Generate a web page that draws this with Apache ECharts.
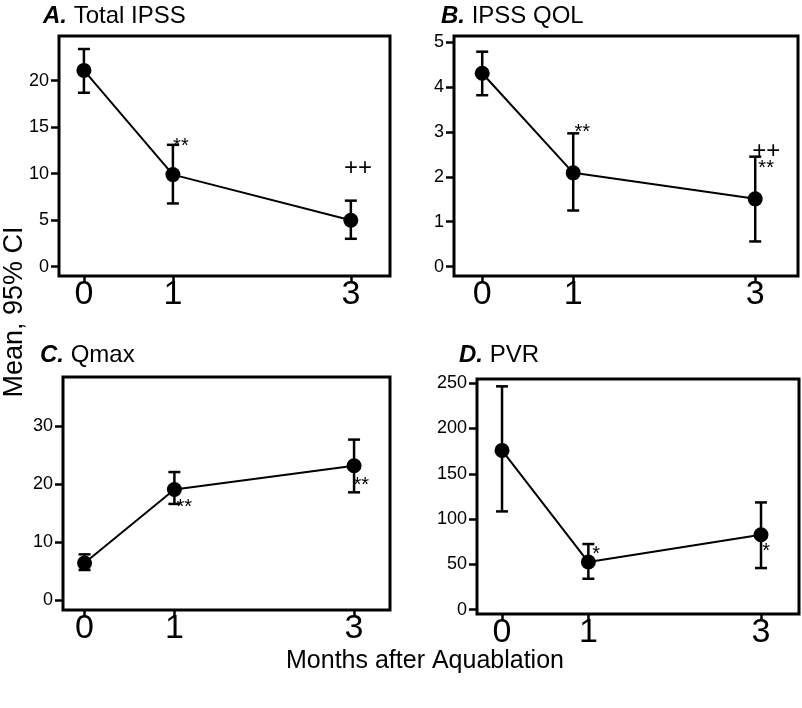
<!DOCTYPE html>
<html>
<head>
<meta charset="utf-8">
<script src="https://cdn.jsdelivr.net/npm/echarts@6/dist/echarts.min.js"></script>
<style>
html,body{margin:0;padding:0;background:#fff;}
#main{width:802px;height:708px;}
</style>
</head>
<body>
<div id="main"></div>
<script>
// ---- data ----
const months = [0, 1, 3];
const xTickLabels = ['0', '1', '3'];

const ipssMean = [21.1, 9.9, 5.0];
const ipssLow  = [18.7, 6.8, 3.0];
const ipssHigh = [23.4, 13.1, 7.1];
const ipssTicks = [0, 5, 10, 15, 20];

const qolMean = [4.31, 2.09, 1.51];
const qolLow  = [3.82, 1.25, 0.56];
const qolHigh = [4.79, 2.97, 2.45];
const qolTicks = [0, 1, 2, 3, 4, 5];

const qmaxMean = [6.4, 19.1, 23.2];
const qmaxLow  = [5.2, 16.6, 18.6];
const qmaxHigh = [7.9, 22.1, 27.7];
const qmaxTicks = [0, 10, 20, 30];

const pvrMean = [175.8, 52.6, 82.8];
const pvrLow  = [108.5, 34.2, 46.0];
const pvrHigh = [246.5, 72.5, 118.4];
const pvrTicks = [0, 50, 100, 150, 200, 250];

// significance annotations: [month position, value position, text]
const annotA = [[1.09, 13.5, '**'], [3.08, 10.6, '++']];
const annotB = [[1.10, 3.1, '**'], [3.12, 2.56, '++'], [3.12, 2.29, '**']];
const annotC = [[1.11, 16.9, '**'], [3.08, 20.7, '**']];
const annotD = [[1.09, 66, '*'], [3.06, 69.9, '*']];

const panelTitles = [['A.', 'Total IPSS'], ['B.', 'IPSS QOL'], ['C.', 'Qmax'], ['D.', 'PVR']];
const yTitle = 'Mean, 95% CI';
const xTitle = 'Months after Aquablation';

// ---- chart ----
const FONT = '"Liberation Sans", Arial, Helvetica, sans-serif';
const chart = echarts.init(document.getElementById('main'), null, {renderer: 'canvas'});

const grids = [
  {left: 59, top: 36, width: 331, height: 240},
  {left: 454, top: 36, width: 344, height: 240},
  {left: 63, top: 377, width: 327, height: 233},
  {left: 477, top: 379, width: 322, height: 235}
];
const xRanges = [[-0.28, 3.44], [-0.31, 3.47], [-0.24, 3.40], [-0.29, 3.44]];
const yRanges = [[-1, 24.8], [-0.21, 5.14], [-1.7, 38.5], [-4.7, 254.6]];
const yTickSets = [ipssTicks, qolTicks, qmaxTicks, pvrTicks];
const means = [ipssMean, qolMean, qmaxMean, pvrMean];
const lows = [ipssLow, qolLow, qmaxLow, pvrLow];
const highs = [ipssHigh, qolHigh, qmaxHigh, pvrHigh];
const annots = [annotA, annotB, annotC, annotD];

const grid = grids.map(g => Object.assign({show: true, borderColor: '#000', borderWidth: 3, backgroundColor: 'transparent'}, g));

const xAxis = xRanges.map((r, i) => ({
  type: 'value', gridIndex: i, min: r[0], max: r[1], position: 'bottom',
  axisLine: {show: false, onZero: false},
  splitLine: {show: false},
  axisTick: {show: true, inside: false, length: 7, customValues: months, lineStyle: {color: '#000', width: 2.5}},
  axisLabel: {show: true, customValues: months, margin: 2, fontSize: 34, color: '#000', fontFamily: FONT,
    formatter: v => xTickLabels[months.indexOf(v)]}
}));

const yAxis = yRanges.map((r, i) => ({
  type: 'value', gridIndex: i, min: r[0], max: r[1], position: 'left',
  axisLine: {show: false, onZero: false},
  splitLine: {show: false},
  axisTick: {show: true, inside: false, length: 8, customValues: yTickSets[i], lineStyle: {color: '#000', width: 2.5}},
  axisLabel: {show: true, customValues: yTickSets[i], margin: 10, fontSize: 18, color: '#000', fontFamily: FONT}
}));

const series = [];
for (let i = 0; i < 4; i++) {
  series.push({
    type: 'custom', xAxisIndex: i, yAxisIndex: i, z: 2, silent: true,
    data: months.map((m, k) => [m, lows[i][k], highs[i][k]]),
    renderItem: (params, api) => {
      const x = api.value(0);
      const lo = api.coord([x, api.value(1)]);
      const hi = api.coord([x, api.value(2)]);
      const cap = 6;
      const st = {stroke: '#000', lineWidth: 2.5, fill: null};
      return {type: 'group', children: [
        {type: 'line', shape: {x1: lo[0], y1: lo[1], x2: hi[0], y2: hi[1]}, style: st},
        {type: 'line', shape: {x1: lo[0] - cap, y1: lo[1], x2: lo[0] + cap, y2: lo[1]}, style: st},
        {type: 'line', shape: {x1: hi[0] - cap, y1: hi[1], x2: hi[0] + cap, y2: hi[1]}, style: st}
      ]};
    }
  });
  series.push({
    type: 'line', xAxisIndex: i, yAxisIndex: i, z: 3, silent: true,
    data: months.map((m, k) => [m, means[i][k]]),
    symbol: 'circle', symbolSize: 15, showSymbol: true,
    itemStyle: {color: '#000'},
    lineStyle: {color: '#000', width: 2}
  });
  series.push({
    type: 'custom', xAxisIndex: i, yAxisIndex: i, z: 4, silent: true,
    data: annots[i],
    renderItem: (params, api) => {
      const p = api.coord([api.value(0), api.value(1)]);
      const t = annots[i][params.dataIndex][2];
      const isStar = t.indexOf('*') >= 0;
      return {type: 'text', x: p[0], y: p[1] + (isStar ? 5 : 0), style: {
        text: t, fill: '#000', fontSize: isStar ? 20 : 24, fontFamily: FONT,
        align: 'center', verticalAlign: 'middle'
      }};
    }
  });
}

const titlePos = [[43, 17], [441, 17], [40, 356], [459, 356]];
const graphic = panelTitles.map((t, i) => ({
  type: 'text', left: titlePos[i][0], top: titlePos[i][1] - 13,
  style: {
    text: '{b|' + t[0] + '} ' + t[1],
    fontSize: 24, fontFamily: FONT, fill: '#000',
    rich: {b: {fontSize: 24, fontFamily: FONT, fontWeight: 'bold', fontStyle: 'italic', fill: '#000'}}
  }
}));
graphic.push({
  type: 'text', x: 15, y: 312, rotation: Math.PI / 2,
  style: {text: yTitle, fontSize: 27, fontFamily: FONT, fill: '#000', align: 'center', verticalAlign: 'middle'}
});
graphic.push({
  type: 'text', x: 425, y: 661,
  style: {text: xTitle, fontSize: 25, fontFamily: FONT, fill: '#000', align: 'center', verticalAlign: 'middle'}
});

chart.setOption({
  animation: false,
  backgroundColor: '#fff',
  grid, xAxis, yAxis, series, graphic
});
</script>
</body>
</html>
